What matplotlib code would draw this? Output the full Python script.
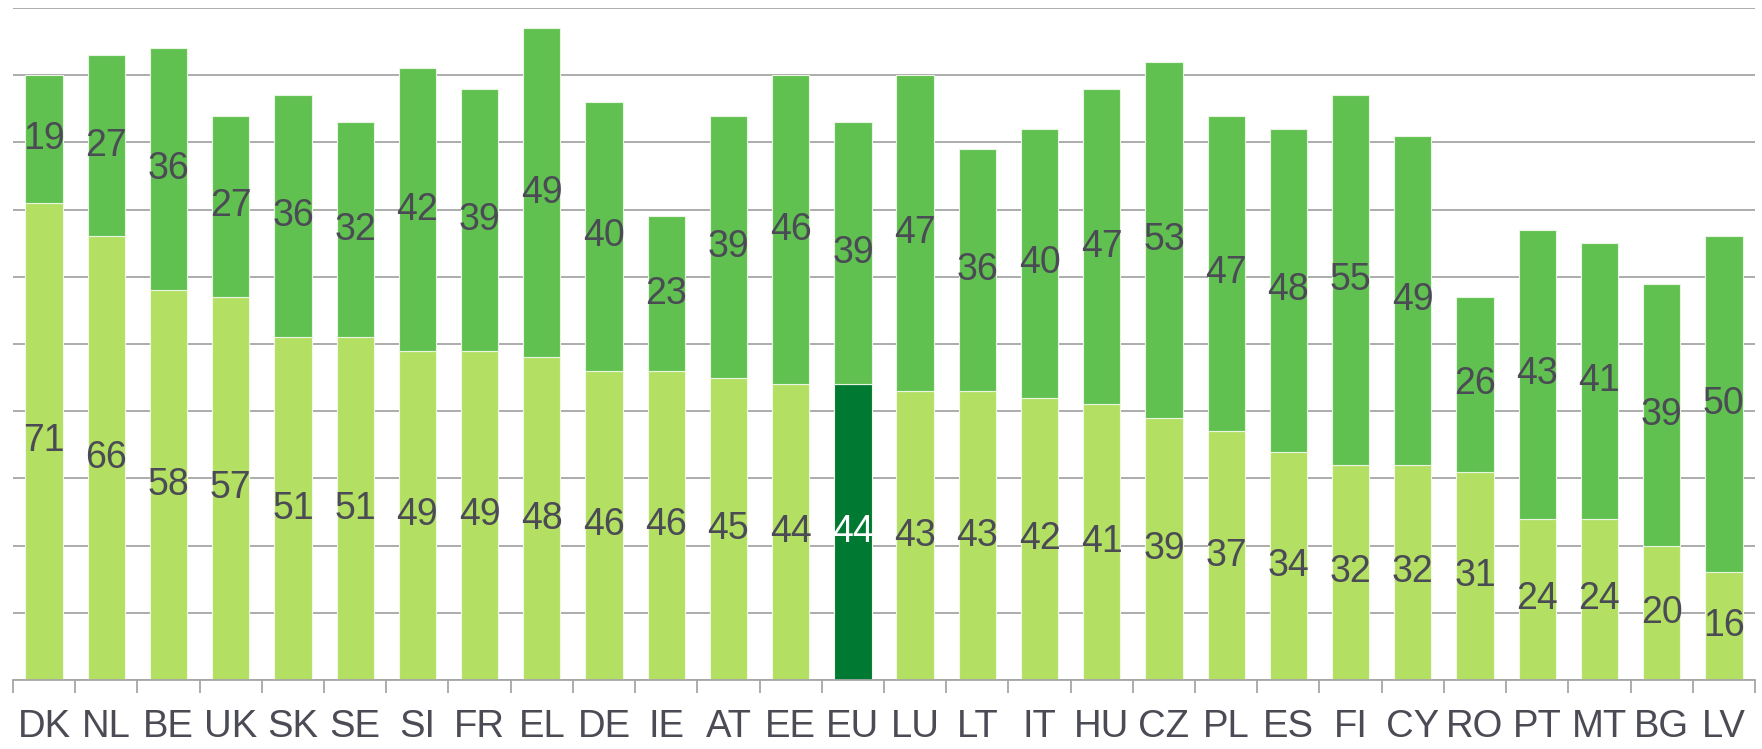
import matplotlib
matplotlib.use("Agg")
import matplotlib.pyplot as plt
import numpy as np

categories = ["DK", "NL", "BE", "UK", "SK", "SE", "SI", "FR", "EL", "DE", "IE", "AT", "EE", "EU",
              "LU", "LT", "IT", "HU", "CZ", "PL", "ES", "FI", "CY", "RO", "PT", "MT", "BG", "LV"]
bottom_vals = [71, 66, 58, 57, 51, 51, 49, 49, 48, 46, 46, 45, 44, 44,
               43, 43, 42, 41, 39, 37, 34, 32, 32, 31, 24, 24, 20, 16]
top_vals = [19, 27, 36, 27, 36, 32, 42, 39, 49, 40, 23, 39, 46, 39,
            47, 36, 40, 47, 53, 47, 48, 55, 49, 26, 43, 41, 39, 50]
highlight = "EU"

plt.rcParams['font.family'] = ['Liberation Sans', 'DejaVu Sans']

LIGHT = "#B3DF62"
MID = "#61C150"
DARK = "#007A33"
TEXT = "#4B4B55"
GRID = "#A6A6A6"

fig = plt.figure(figsize=(17.62, 7.49), dpi=100)
ax = fig.add_axes([13/1762, 1-680/749, (1755-13)/1762, (680-8)/749])

x = np.arange(len(categories))
bcolors = [DARK if c == highlight else LIGHT for c in categories]
ax.bar(x, bottom_vals, width=0.6, color=bcolors, edgecolor="#F0F8E8", linewidth=0.8, zorder=2)
ax.bar(x, top_vals, bottom=bottom_vals, width=0.6, color=MID, edgecolor="#E8F5E3", linewidth=0.8, zorder=2)

for i, c in enumerate(categories):
    b = bottom_vals[i]
    t = top_vals[i]
    ax.text(i, b / 2, str(b), ha="center", va="center", fontsize=27,
            color="white" if c == highlight else TEXT, zorder=3)
    ax.text(i, b + t / 2, str(t), ha="center", va="center", fontsize=27, color=TEXT, zorder=3)

ax.set_xlim(-0.5, len(categories) - 0.5)
ax.set_ylim(0, 100)
ax.set_yticks(np.arange(0, 101, 10))
ax.yaxis.grid(True, color=GRID, linewidth=1.3, zorder=0)
ax.set_axisbelow(True)
ax.tick_params(axis="y", length=0, labelleft=False)

ax.set_xticks(x)
ax.set_xticklabels(categories, fontsize=27.5, color=TEXT)
ax.set_xticks(np.arange(-0.5, len(categories)), minor=True)
ax.tick_params(axis="x", which="major", length=0, pad=21)
ax.tick_params(axis="x", which="minor", length=9, width=1.3, color=GRID, direction="out")

for s in ["left", "right", "top"]:
    ax.spines[s].set_visible(False)
ax.spines["bottom"].set_color(GRID)
ax.spines["bottom"].set_linewidth(1.3)

fig.savefig("out.png", dpi=100)
